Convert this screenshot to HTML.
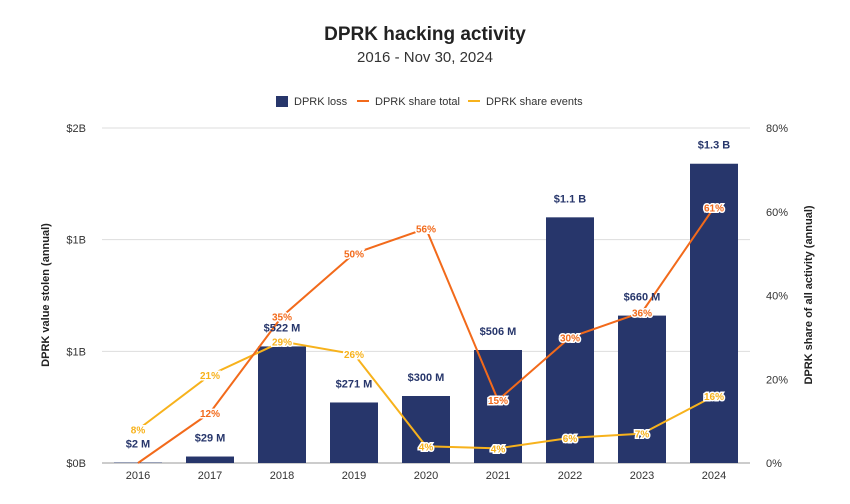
<!DOCTYPE html>
<html><head><meta charset="utf-8"><style>
body{margin:0;background:#fff;font-family:"Liberation Sans",sans-serif;}
svg text{font-family:"Liberation Sans",sans-serif;}
</style></head><body>
<svg id="chart" width="850" height="499">
<text x="425" y="40" text-anchor="middle" font-size="19" font-weight="bold" fill="#222">DPRK hacking activity</text>
<text x="425" y="62" text-anchor="middle" font-size="15" fill="#333">2016 - Nov 30, 2024</text>
<g>
<g><rect x="276" y="96" width="12" height="11" fill="#27366b"/><text x="294" y="105" font-size="11" fill="#333">DPRK loss</text></g>
<g><line x1="357" y1="101" x2="369" y2="101" stroke="#f26a1b" stroke-width="2"/><text x="375" y="105" font-size="11" fill="#333">DPRK share total</text></g>
<g><line x1="468" y1="101" x2="480" y2="101" stroke="#f7b21c" stroke-width="2"/><text x="486" y="105" font-size="11" fill="#333">DPRK share events</text></g>
</g>
<text transform="translate(49,295) rotate(-90)" text-anchor="middle" font-size="11" font-weight="bold" fill="#222">DPRK value stolen (annual)</text>
<text transform="translate(812,295) rotate(-90)" text-anchor="middle" font-size="11" font-weight="bold" fill="#222">DPRK share of all activity (annual)</text>
<g id="grid"></g><g id="bars"></g><g id="lines"></g><g id="labels"></g>
</svg>
<script>
const categories=["2016","2017","2018","2019","2020","2021","2022","2023","2024"];
const lossValues=[2,29,522,271,300,506,1100,660,1340];
const lossLabels=["$2  M","$29  M","$522  M","$271  M","$300  M","$506  M","$1.1 B","$660  M","$1.3 B"];
const shareTotal=[0,12,35,50,56,15,30,36,61];
const shareEvents=[8,21,29,26,4,3.5,6,7,16];
const leftTicks=[0,500,1000,1500];
const leftTickLabels=["$0B","$1B","$1B","$2B"];
const rightTicks=[0,20,40,60,80];
const NS="http://www.w3.org/2000/svg";
const X0=102,X1=750,YB=463,YT=128;
const step=(X1-X0)/categories.length;
const xs=i=>X0+step*(i+0.5);
const yL=v=>YB-(v/1500)*(YB-YT);
const yR=v=>YB-(v/80)*(YB-YT);
function mk(tag,attrs,parent,text){const e=document.createElementNS(NS,tag);for(const k in attrs)e.setAttribute(k,attrs[k]);if(text!==undefined)e.textContent=text;document.getElementById(parent).appendChild(e);return e;}
leftTicks.forEach((t,i)=>{
 const l=mk("line",{x1:X0,x2:X1,y1:yL(t),y2:yL(t),stroke:i===0?"#999":"#ddd","stroke-width":1},"grid");
 
 
 const tx=mk("text",{x:86,y:yL(t)+4,"text-anchor":"end","font-size":11,fill:"#333"},"grid",leftTickLabels[i]);
 
 
});
rightTicks.forEach(t=>{
 const tx=mk("text",{x:766,y:yR(t)+4,"font-size":11,fill:"#333"},"grid",t+"%");
 
 
});
categories.forEach((c,i)=>{
 const tx=mk("text",{x:xs(i),y:479,"text-anchor":"middle","font-size":11,fill:"#333"},"grid",c);
 
 
 const bw=48;
 const b=mk("rect",{x:xs(i)-bw/2,y:yL(lossValues[i]),width:bw,height:YB-yL(lossValues[i]),fill:"#27366b"},"bars");
 
 
 const bl=mk("text",{x:xs(i),y:yL(lossValues[i])-15,"text-anchor":"middle","font-size":11,"font-weight":"bold",fill:"#27366b"},"labels",lossLabels[i]);
 
 
});
function series(vals,color,name){
 const p=mk("polyline",{points:vals.map((v,i)=>xs(i)+","+yR(v)).join(" "),fill:"none",stroke:color,"stroke-width":2},"lines");
 
 
 vals.forEach((v,i)=>{
  if(v===0)return;
  const t=mk("text",{x:xs(i),y:yR(v)+4,"text-anchor":"middle","font-size":10,"font-weight":"bold",fill:color,stroke:"#fff","stroke-width":3,"paint-order":"stroke"},"labels",Math.round(v)+"%");
  
  
 });
}
series(shareEvents,"#f7b21c","share-events");
series(shareTotal,"#f26a1b","share-total");
</script>
</body></html>
